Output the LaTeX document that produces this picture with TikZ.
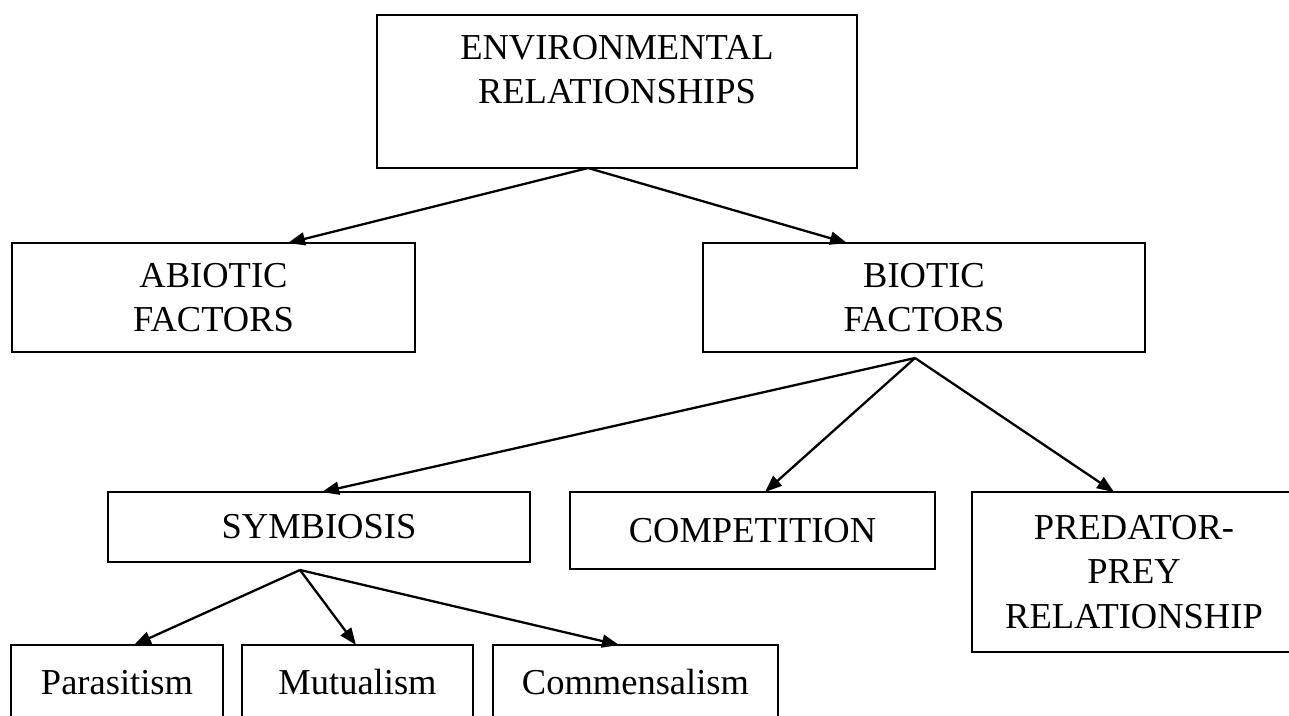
\documentclass[tikz,border=0pt]{standalone}
\usepackage{fontspec}
\setmainfont{Liberation Serif}
\usetikzlibrary{arrows.meta}
\begin{document}
\begin{tikzpicture}[x=1pt,y=-1pt,
  box/.style={draw=black, line width=1.8pt, rectangle, inner sep=0pt, outer sep=0pt,
    align=center, font=\fontsize{36.5}{44.5}\selectfont},
  arr/.style={line width=2.3pt, -{Triangle[length=17pt,width=13pt]}}]
\useasboundingbox (0,0) rectangle (1289,715);
% boxes
\node[box, minimum width=480pt, minimum height=153pt] (env) at (617,91.5) {ENVIRONMENTAL\\RELATIONSHIPS\\\mbox{}};
\node[box, minimum width=403pt, minimum height=109pt] (abiotic) at (213.5,297.5) {ABIOTIC\\FACTORS};
\node[box, minimum width=442pt, minimum height=109pt] (biotic) at (924,297.5) {BIOTIC\\FACTORS};
\node[box, minimum width=422pt, minimum height=70pt] (symb) at (319,527) {SYMBIOSIS};
\node[box, minimum width=365pt, minimum height=77pt] (comp) at (752.5,530.5) {COMPETITION};
\node[box, minimum width=324pt, minimum height=160pt] (pred) at (1134,572) {PREDATOR-\\PREY\\RELATIONSHIP};
\node[box, minimum width=212pt, minimum height=75pt] (para) at (117,682.5) {Parasitism};
\node[box, minimum width=231pt, minimum height=75pt] (mutu) at (357.5,682.5) {Mutualism};
\node[box, minimum width=285pt, minimum height=75pt] (comm) at (635.5,682.5) {Commensalism};
% branch points
\coordinate (a1) at ([xshift=-29pt]env.south);
\coordinate (a2) at ([xshift=-9pt,yshift=-6pt]biotic.south);
\coordinate (a3) at ([xshift=-19pt,yshift=-8pt]symb.south);
% connectors
\draw[arr] (a1) -- ([xshift=74.5pt]abiotic.north);
\draw[arr] (a1) -- ([xshift=-77pt]biotic.north);
\draw[arr] (a2) -- ([xshift=3pt]symb.north);
\draw[arr] (a2) -- ([xshift=12.5pt]comp.north);
\draw[arr] (a2) -- ([xshift=-20pt]pred.north);
\draw[arr] (a3) -- ([xshift=17pt]para.north);
\draw[arr] (a3) -- ([xshift=-1.5pt]mutu.north);
\draw[arr] (a3) -- ([xshift=-16.5pt]comm.north);
\end{tikzpicture}
\end{document}
